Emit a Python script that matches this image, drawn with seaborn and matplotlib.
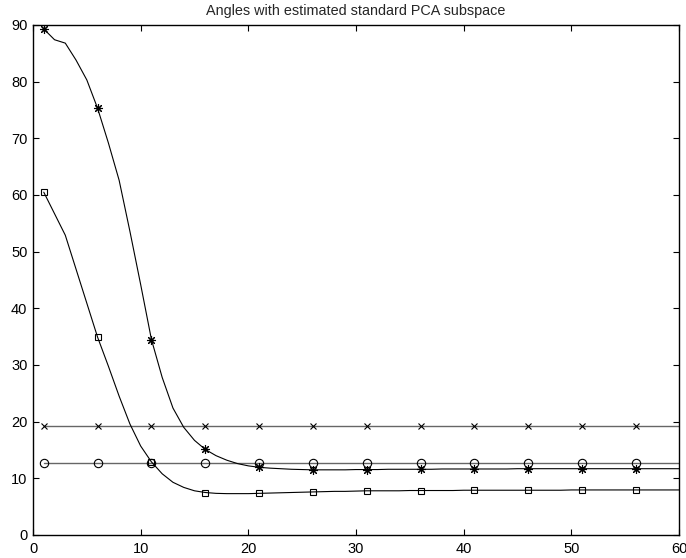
import matplotlib
matplotlib.use("Agg")
import matplotlib.pyplot as plt
import seaborn as sns
import pandas as pd

# ---- data ----
x_vals = list(range(1, 61))

star_vals = [89.3, 87.4, 86.8, 83.8, 80.3, 75.3, 69.2, 62.6, 53.6, 44.2,
             34.5, 27.8, 22.4, 19.0, 16.7, 15.1, 14.0, 13.2, 12.6, 12.2,
             11.95, 11.8, 11.7, 11.6, 11.55, 11.5, 11.5, 11.5, 11.5, 11.55,
             11.55, 11.55, 11.6, 11.6, 11.6, 11.6, 11.6, 11.65, 11.65, 11.65,
             11.65, 11.65, 11.65, 11.65, 11.7, 11.7, 11.7, 11.7, 11.7, 11.7,
             11.7, 11.7, 11.7, 11.7, 11.7, 11.7, 11.7, 11.7, 11.7, 11.7]

square_vals = [60.5, 56.7, 52.9, 46.9, 40.9, 34.9, 29.8, 24.5, 19.6, 15.7,
               12.9, 10.8, 9.3, 8.4, 7.8, 7.5, 7.35, 7.3, 7.3, 7.3,
               7.35, 7.4, 7.45, 7.5, 7.55, 7.6, 7.65, 7.7, 7.7, 7.75,
               7.8, 7.8, 7.8, 7.8, 7.85, 7.85, 7.85, 7.85, 7.85, 7.9,
               7.9, 7.9, 7.9, 7.9, 7.9, 7.9, 7.9, 7.9, 7.9, 7.95,
               7.95, 7.95, 7.95, 7.95, 7.95, 7.95, 7.95, 7.95, 7.95, 7.95]

cross_vals = [19.3, 19.3, 19.3, 19.3, 19.3, 19.3, 19.3, 19.3, 19.3, 19.3,
              19.3, 19.3, 19.3, 19.3, 19.3, 19.3, 19.3, 19.3, 19.3, 19.3,
              19.3, 19.3, 19.3, 19.3, 19.3, 19.3, 19.3, 19.3, 19.3, 19.3,
              19.3, 19.3, 19.3, 19.3, 19.3, 19.3, 19.3, 19.3, 19.3, 19.3,
              19.3, 19.3, 19.3, 19.3, 19.3, 19.3, 19.3, 19.3, 19.3, 19.3,
              19.3, 19.3, 19.3, 19.3, 19.3, 19.3, 19.3, 19.3, 19.3, 19.3]

circle_vals = [12.7, 12.7, 12.7, 12.7, 12.7, 12.7, 12.7, 12.7, 12.7, 12.7,
               12.7, 12.7, 12.7, 12.7, 12.7, 12.7, 12.7, 12.7, 12.7, 12.7,
               12.7, 12.7, 12.7, 12.7, 12.7, 12.7, 12.7, 12.7, 12.7, 12.7,
               12.7, 12.7, 12.7, 12.7, 12.7, 12.7, 12.7, 12.7, 12.7, 12.7,
               12.7, 12.7, 12.7, 12.7, 12.7, 12.7, 12.7, 12.7, 12.7, 12.7,
               12.7, 12.7, 12.7, 12.7, 12.7, 12.7, 12.7, 12.7, 12.7, 12.7]

x_ticks = [0, 10, 20, 30, 40, 50, 60]
y_ticks = [0, 10, 20, 30, 40, 50, 60, 70, 80, 90]
title_text = "Angles with estimated standard PCA subspace"

# ---- style ----
sns.set_theme(style="white")
plt.rcParams['font.family'] = ['Liberation Sans', 'DejaVu Sans']
plt.rcParams.update({
    'xtick.direction': 'in', 'ytick.direction': 'in',
    'xtick.top': True, 'ytick.right': True,
    'xtick.bottom': True, 'ytick.left': True,
    'xtick.major.size': 4.5, 'ytick.major.size': 4.5,
    'xtick.major.width': 0.8, 'ytick.major.width': 0.8,
    'xtick.color': 'black', 'ytick.color': 'black',
    'xtick.labelsize': 10.5, 'ytick.labelsize': 10.5,
    'axes.edgecolor': 'black', 'axes.linewidth': 1.0,
})

fig = plt.figure(figsize=(6.86, 5.58), dpi=100)
ax = fig.add_axes([33/686, 23/558, 646/686, 510/558])

series = [
    (cross_vals, 'x', 4.5, '0.4', 1.0),
    (circle_vals, 'o', 6.0, '0.4', 1.0),
    (star_vals, (8, 2, 0), 6.5, 'black', 0.8),
    (square_vals, 's', 5.0, 'black', 0.8),
]
for vals, mk, ms, col, lw in series:
    df = pd.DataFrame({'x': x_vals, 'y': vals})
    sns.lineplot(data=df, x='x', y='y', ax=ax, color=col, lw=lw,
                 marker=mk, markevery=5, markersize=ms,
                 markerfacecolor='none', markeredgecolor='black',
                 markeredgewidth=0.8)

ax.set_xlim(0, 60)
ax.set_ylim(0, 90)
ax.set_xticks(x_ticks)
ax.set_yticks(y_ticks)
ax.set_xlabel('')
ax.set_ylabel('')
ax.tick_params(axis='x', pad=5)
ax.tick_params(axis='y', pad=4)
ax.set_title(title_text, fontsize=10.4, pad=7)
for s in ax.spines.values():
    s.set_visible(True)
    s.set_color('black')

fig.savefig('out.png', dpi=100)
